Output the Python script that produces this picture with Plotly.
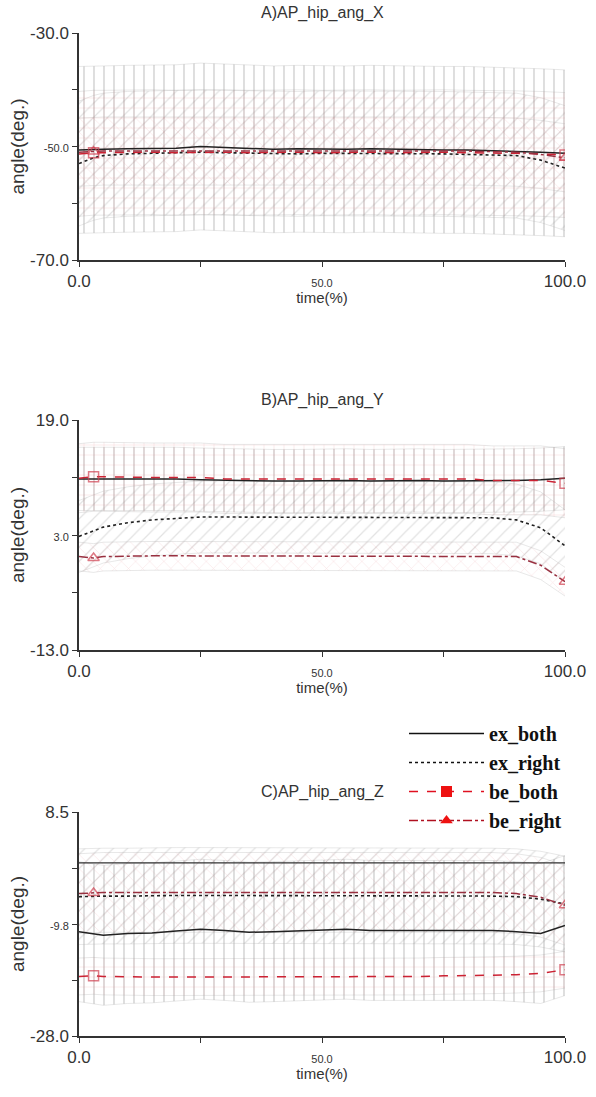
import plotly.graph_objects as go

W, H = 596, 1097

# ---------------- data ----------------
t = [0, 3, 5, 10, 15, 20, 25, 30, 35, 40, 45, 50, 55, 60, 65, 70, 75, 80, 85, 90, 95, 100]

# Panel A : AP_hip_ang_X
A_ex_both = [-50.6, -50.5, -50.5, -50.4, -50.4, -50.3, -50.0, -50.2, -50.4, -50.5, -50.4,
             -50.5, -50.5, -50.4, -50.5, -50.5, -50.6, -50.6, -50.7, -50.8, -51.0, -51.2]
A_ex_right = [-53.0, -52.0, -51.6, -51.3, -51.2, -51.1, -51.0, -51.1, -51.2, -51.3, -51.3,
              -51.2, -51.2, -51.3, -51.3, -51.2, -51.3, -51.4, -51.5, -51.6, -52.4, -53.8]
A_be_both = [-51.3, -51.1, -51.1, -51.0, -51.0, -51.1, -51.0, -51.0, -51.1, -51.0, -51.0,
             -51.1, -51.0, -51.0, -51.1, -51.0, -51.0, -51.1, -51.1, -51.2, -51.3, -51.5]
A_be_right = [-51.0, -50.9, -50.8, -50.8, -50.8, -50.7, -50.7, -50.8, -50.8, -50.8, -50.7,
              -50.8, -50.8, -50.8, -50.8, -50.7, -50.8, -50.8, -50.9, -51.0, -51.4, -52.0]
A_sd = {"ex_both": 14.7, "ex_right": 11.0, "be_both": 11.0, "be_right": 6.0}

# Panel B : AP_hip_ang_Y
B_ex_both = [10.8, 10.8, 10.9, 10.9, 10.9, 10.8, 10.7, 10.6, 10.6, 10.5, 10.5,
             10.6, 10.6, 10.5, 10.6, 10.6, 10.5, 10.5, 10.5, 10.6, 10.7, 10.9]
B_ex_right = [2.8, 3.6, 4.1, 4.7, 5.1, 5.3, 5.5, 5.5, 5.5, 5.4, 5.4,
              5.4, 5.4, 5.4, 5.4, 5.4, 5.4, 5.4, 5.4, 5.1, 4.0, 1.5]
B_be_both = [10.9, 11.1, 11.1, 11.0, 11.0, 11.0, 11.0, 10.8, 10.8, 10.8, 10.8,
             10.8, 10.9, 10.8, 10.9, 10.9, 10.8, 10.8, 10.6, 10.6, 10.6, 10.2]
B_be_right = [0.0, -0.2, 0.0, 0.1, 0.1, 0.1, 0.1, 0.1, 0.1, 0.1, 0.1,
              0.1, 0.1, 0.1, 0.1, 0.1, 0.1, 0.1, 0.1, 0.0, -1.2, -3.5]
B_sd = {"ex_both": 4.4, "ex_right": 5.0, "be_both": 4.8, "be_right": 2.0}

# Panel C : AP_hip_ang_Z
C_ex_both = [-11.0, -11.3, -11.6, -11.3, -11.2, -10.9, -10.6, -10.8, -11.1, -11.0, -10.9,
             -10.8, -10.6, -10.8, -10.8, -10.8, -10.8, -10.8, -10.8, -11.0, -11.3, -10.0]
C_ex_right = [-5.3, -5.2, -5.2, -5.2, -5.1, -5.1, -5.1, -5.1, -5.1, -5.1, -5.1,
              -5.1, -5.1, -5.1, -5.1, -5.1, -5.1, -5.1, -5.2, -5.3, -5.7, -6.5]
C_be_both = [-18.3, -18.2, -18.3, -18.4, -18.4, -18.4, -18.4, -18.4, -18.4, -18.4, -18.3,
             -18.3, -18.3, -18.3, -18.3, -18.3, -18.2, -18.2, -18.1, -18.0, -17.8, -17.2]
C_be_right = [-4.8, -4.7, -4.6, -4.6, -4.6, -4.5, -4.5, -4.5, -4.5, -4.5, -4.5,
              -4.5, -4.5, -4.5, -4.5, -4.5, -4.5, -4.5, -4.6, -4.8, -5.4, -6.7]
C_sd = {"ex_both": 11.4, "ex_right": 7.8, "be_both": 3.0, "be_right": 6.5}
C_upper_ref = [0.2] * len(t)   # straight dark reference line at top of panel C

panels = [
    dict(title="A)AP_hip_ang_X", yr=[-70, -30], yt=[-70, -60, -50, -40, -30],
         ytxt=["-70.0", "", "-50.0", "", "-30.0"], top=33, bot=260,
         ex_both=A_ex_both, ex_right=A_ex_right, be_both=A_be_both, be_right=A_be_right, sd=A_sd),
    dict(title="B)AP_hip_ang_Y", yr=[-13, 19], yt=[-13, -5, 3, 11, 19],
         ytxt=["-13.0", "", "3.0", "", "19.0"], top=420, bot=650,
         ex_both=B_ex_both, ex_right=B_ex_right, be_both=B_be_both, be_right=B_be_right, sd=B_sd),
    dict(title="C)AP_hip_ang_Z", yr=[-28, 8.5], yt=[-28, -18.875, -9.75, -0.625, 8.5],
         ytxt=["-28.0", "", "-9.8", "", "8.5"], top=812, bot=1036,
         ex_both=C_ex_both, ex_right=C_ex_right, be_both=C_be_both, be_right=C_be_right, sd=C_sd),
]

x_ticks = [0, 25, 50, 75, 100]
x_ticktext = ["0.0", "", "<span style='font-size:11px'>50.0</span>", "", "100.0"]

# band styles: (pattern shape, colour)
band_style = {
    "ex_both": ("|", "rgba(100,100,100,0.7)"),
    "ex_right": ("/", "rgba(140,140,140,0.5)"),
    "be_both": ("+", "rgba(225,120,130,0.5)"),
    "be_right": ("x", "rgba(225,120,130,0.4)"),
}
line_style = {
    "ex_both": dict(color="#222222", width=1.5, dash="solid"),
    "ex_right": dict(color="#222222", width=1.6, dash="dot"),
    "be_both": dict(color="#cc2233", width=1.5, dash="dash"),
    "be_right": dict(color="#993040", width=1.5, dash="dashdot"),
}
marker_symbol = {"be_both": "square-open", "be_right": "triangle-up-open"}

x0px, x1px = 79, 565
fig = go.Figure()
FONT = "Liberation Sans, Arial, sans-serif"
EDGE = dict(color="rgba(170,170,170,0.35)", width=0.8)

for i, p in enumerate(panels):
    xa = "x" if i == 0 else f"x{i+1}"
    ya = "y" if i == 0 else f"y{i+1}"
    for key in ["ex_both", "ex_right", "be_both", "be_right"]:
        mean = p[key]
        sd = p["sd"][key]
        shape, col = band_style[key]
        upper = [v + sd for v in mean]
        lower = [v - sd for v in mean]
        fig.add_trace(go.Scatter(x=t, y=upper, xaxis=xa, yaxis=ya, mode="lines", line=EDGE,
                                 showlegend=False, hoverinfo="skip"))
        fig.add_trace(go.Scatter(x=t, y=lower, xaxis=xa, yaxis=ya, mode="lines", fill="tonexty",
                                 fillcolor="rgba(0,0,0,0)",
                                 fillpattern=dict(shape=shape, fgcolor=col, bgcolor="rgba(0,0,0,0)",
                                                  size=10, solidity=0.12),
                                 line=EDGE, showlegend=False, hoverinfo="skip"))
    if i == 2:
        fig.add_trace(go.Scatter(x=t, y=C_upper_ref, xaxis=xa, yaxis=ya, mode="lines",
                                 line=dict(color="#333333", width=1.3), showlegend=False,
                                 hoverinfo="skip"))
    for key in ["ex_both", "ex_right", "be_both", "be_right"]:
        mean = p[key]
        tr = dict(x=t, y=mean, xaxis=xa, yaxis=ya, line=line_style[key], showlegend=False,
                  name=key)
        if key in marker_symbol:
            sizes = [10 if (j == 1 or j == len(t) - 1) else 0 for j in range(len(t))]
            tr.update(mode="lines+markers",
                      marker=dict(symbol=marker_symbol[key], size=sizes,
                                  color="#d04050", line=dict(width=1.5, color="#d04050")))
        else:
            tr.update(mode="lines")
        fig.add_trace(go.Scatter(**tr))

    ydom = [1 - p["bot"] / H, 1 - p["top"] / H]
    mid_small = [("<span style='font-size:11px'>%s</span>" % s) if (k == 2) else s
                 for k, s in enumerate(p["ytxt"])]
    axis_common = dict(showgrid=False, zeroline=False, showline=True, linecolor="#333333",
                       linewidth=1.5, ticks="outside", ticklen=5, tickcolor="#333333",
                       tickwidth=1.2, automargin=False,
                       tickfont=dict(size=17, color="#333333", family=FONT))
    fig.layout[("xaxis" if i == 0 else f"xaxis{i+1}")] = dict(
        domain=[x0px / W, x1px / W], range=[0, 100], tickvals=x_ticks, ticktext=x_ticktext,
        anchor=ya, title=dict(text="time(%)", font=dict(size=15, color="#333333", family=FONT),
                              standoff=2), **axis_common)
    fig.layout[("yaxis" if i == 0 else f"yaxis{i+1}")] = dict(
        domain=ydom, range=p["yr"], tickvals=p["yt"], ticktext=mid_small, anchor=xa,
        title=dict(text="angle(deg.)", font=dict(size=19, color="#333333", family=FONT),
                   standoff=0), **axis_common)
    fig.add_annotation(text=p["title"], x=(x0px + x1px) / 2 / W, y=1 - (p["top"] - 20) / H,
                       xref="paper", yref="paper", showarrow=False, xanchor="center",
                       yanchor="middle", font=dict(size=16, color="#333333", family=FONT))

leg = [
    ("ex_both", dict(color="#111111", width=1.6, dash="solid"), None),
    ("ex_right", dict(color="#111111", width=1.6, dash="dot"), None),
    ("be_both", dict(color="#e01020", width=1.6, dash="dash"), "square"),
    ("be_right", dict(color="#b01020", width=1.6, dash="dashdot"), "triangle-up"),
]
for name, ls, sym in leg:
    tr = dict(x=[None], y=[None], name=name, line=ls, showlegend=True)
    if sym:
        tr.update(mode="lines+markers", marker=dict(symbol=sym, size=11, color="#ee1111"))
    else:
        tr.update(mode="lines")
    fig.add_trace(go.Scatter(**tr))

fig.update_layout(
    width=W, height=H, margin=dict(l=0, r=0, t=0, b=0, autoexpand=False),
    paper_bgcolor="white", plot_bgcolor="white",
    legend=dict(x=404 / W, y=1 - 714 / H, xanchor="left", yanchor="top",
                traceorder="normal",
                font=dict(family="Liberation Serif, Times New Roman, serif", size=20,
                          color="#111111", weight="bold"),
                bgcolor="rgba(255,255,255,0)", tracegroupgap=0, itemwidth=75),
    font=dict(family=FONT),
)

fig.write_html("out.html")
